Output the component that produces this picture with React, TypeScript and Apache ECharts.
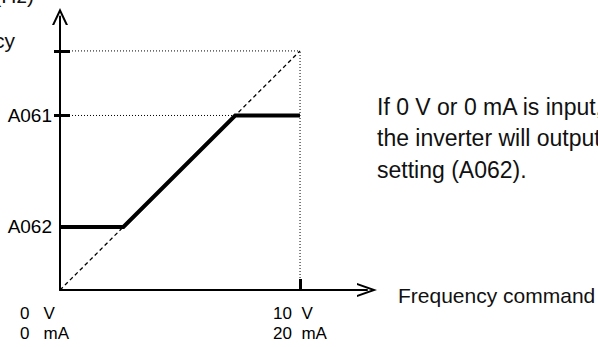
import React, { useEffect, useRef } from 'react';
import * as echarts from 'echarts';

// ---- data ----
const VOLT_MAX = 10;            // 10 V / 20 mA
const FREQ_MAX = 100;           // maximum frequency (relative)
const A062 = 26.4;              // start frequency setting
const A061 = 73;                // end frequency setting
const outputX = [0, 2.64, 7.3, 10];
const outputY = [26.4, 26.4, 73, 73];
const diagonalX = [0, 10];
const diagonalY = [0, 100];
const xTickValues = [10];
const xLabelValues = [0, 10];
const xLabelVoltage = ['0   V', '10  V'];
const xLabelCurrent = ['0   mA', '20  mA'];
const yTickValues = [73, 100];
const yLabelValues = [26.4, 73];
const yLabelNames = ['A062', 'A061'];

// axis extents (arrow ends)
const X_END = 12.79;
const Y_END = 114.4;

const LABEL_FONT = '"Liberation Sans Narrow", "Arial Narrow", "Liberation Sans", Arial, sans-serif';
const SANS = '"Liberation Sans", Arial, sans-serif';

const ARROW_Y = 'path://M8,0L16,17L13.8,17L8,4.7L2.2,17L0,17Z';
const ARROW_X = 'path://M7,0L14,20L11.9,20L7,6L2.1,20L0,20Z';

const pairs = (xs: number[], ys: number[]) => xs.map((x, i) => [x, ys[i]]);

export default function App() {
  const ref = useRef<HTMLDivElement>(null);
  useEffect(() => {
    if (!ref.current) return;
    const chart = echarts.init(ref.current, null, { renderer: 'svg' });
    const dotted = { color: '#000', width: 1, type: [1, 2] as number[] };
    chart.setOption({
      animation: false,
      grid: { left: 60, right: 231, top: 16.5, bottom: 57, containLabel: false },
      xAxis: {
        type: 'value',
        min: 0,
        max: X_END,
        splitLine: { show: false },
        axisLine: {
          show: true,
          lineStyle: { color: '#000', width: 2 },
          symbol: ['none', ARROW_X],
          symbolSize: [14, 20],
        },
        axisTick: {
          show: true,
          inside: true,
          length: 11,
          customValues: xTickValues,
          lineStyle: { color: '#000', width: 3 },
        },
        axisLabel: {
          show: true,
          customValues: xLabelValues,
          margin: 13,
          align: 'center',
          formatter: (v: number) => {
            const i = xLabelValues.findIndex((x) => Math.abs(x - v) < 1e-6);
            if (i < 0) return '';
            const k = i === 0 ? 'z' : 't';
            return `{${k}|${xLabelVoltage[i]}}\n{${k}|${xLabelCurrent[i]}}`;
          },
          rich: {
            z: { width: 80, align: 'left', fontFamily: LABEL_FONT, fontSize: 17, lineHeight: 20, color: '#000' },
            t: { width: 54, align: 'left', fontFamily: LABEL_FONT, fontSize: 17, lineHeight: 20, color: '#000' },
          },
        },
      },
      yAxis: [
        {
          type: 'value',
          min: 0,
          max: Y_END,
          splitLine: { show: false },
          axisLine: {
            show: true,
            lineStyle: { color: '#000', width: 2 },
            symbol: ['none', ARROW_Y],
            symbolSize: [16, 17],
          },
          axisTick: {
            show: true,
            inside: true,
            length: 10,
            customValues: yTickValues,
            lineStyle: { color: '#000', width: 3 },
          },
          axisLabel: {
            show: true,
            customValues: yLabelValues,
            margin: 8,
            fontFamily: LABEL_FONT,
            fontSize: 19,
            color: '#000',
            padding: [7, 0, 0, 0],
            formatter: (v: number) => {
              const i = yLabelValues.findIndex((y) => Math.abs(y - v) < 1e-6);
              return i < 0 ? '' : yLabelNames[i];
            },
          },
        },
        {
          type: 'value',
          min: 0,
          max: Y_END,
          position: 'left',
          offset: 0,
          splitLine: { show: false },
          axisLine: { show: false },
          axisTick: {
            show: true,
            inside: false,
            length: 6,
            customValues: yTickValues,
            lineStyle: { color: '#000', width: 3 },
          },
          axisLabel: { show: false },
        },
      ],
      series: [
        {
          type: 'line',
          name: 'max frequency guide',
          data: [[0, FREQ_MAX], [VOLT_MAX, FREQ_MAX]],
          symbol: 'none',
          silent: true,
          lineStyle: dotted,
          z: 1,
        },
        {
          type: 'line',
          name: '10 V guide',
          data: [[VOLT_MAX, 0], [VOLT_MAX, FREQ_MAX]],
          symbol: 'none',
          silent: true,
          lineStyle: dotted,
          z: 1,
        },
        {
          type: 'line',
          name: 'A061 guide',
          data: [[0, A061], [VOLT_MAX, A061]],
          symbol: 'none',
          silent: true,
          lineStyle: dotted,
          z: 1,
        },
        {
          type: 'line',
          name: 'linear',
          data: pairs(diagonalX, diagonalY),
          symbol: 'none',
          silent: true,
          lineStyle: { color: '#000', width: 1.3, type: [4, 3] },
          z: 2,
        },
        {
          type: 'line',
          name: 'output',
          data: pairs(outputX, outputY),
          symbol: 'none',
          silent: true,
          lineStyle: { color: '#000', width: 4, cap: 'butt', join: 'miter' },
          z: 3,
        },
      ],
      graphic: [
        {
          type: 'text',
          x: 34,
          y: 6,
          style: { text: 'Output frequency (Hz)', font: `21px ${SANS}`, fill: '#111', align: 'right', verticalAlign: 'bottom' },
        },
        {
          type: 'text',
          x: 15,
          y: 40,
          style: { text: 'Maximum frequency', font: `21px ${SANS}`, fill: '#111', align: 'right', verticalAlign: 'middle' },
        },
        {
          type: 'text',
          x: 377,
          y: 91,
          style: {
            text: 'If 0 V or 0 mA is input,\nthe inverter will output the\nsetting (A062).',
            font: `23px ${SANS}`,
            lineHeight: 31.5,
            fill: '#111',
            align: 'left',
            verticalAlign: 'top',
          },
        },
        {
          type: 'text',
          x: 398,
          y: 295,
          style: { text: 'Frequency command', font: `21px ${SANS}`, fill: '#111', align: 'left', verticalAlign: 'middle' },
        },
      ],
    });
    return () => chart.dispose();
  }, []);
  return (
    <div
      ref={ref}
      style={{ position: 'fixed', left: 0, top: 0, width: 598, height: 347, background: '#fff' }}
    />
  );
}
